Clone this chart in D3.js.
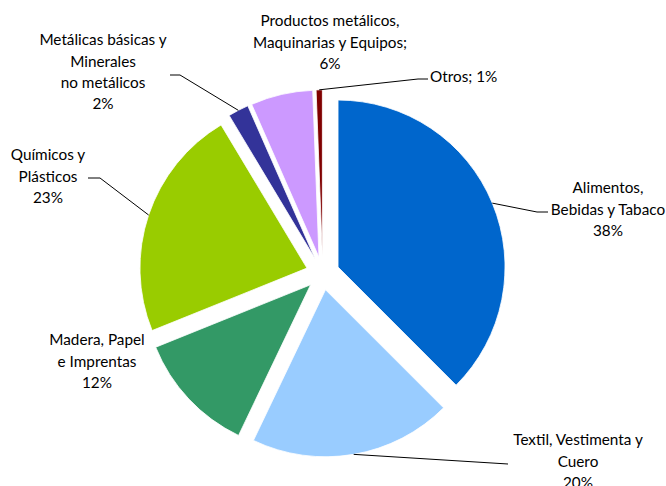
<!DOCTYPE html>
<html>
<head>
<meta charset="utf-8">
<script src="https://cdn.jsdelivr.net/npm/d3@7"></script>
<style>
  html, body { margin: 0; padding: 0; background: #fff; }
  svg { display: block; }
  text { font-family: Lato, "Open Sans", sans-serif; font-size: 15.3px; fill: #000; }
</style>
</head>
<body>
<svg id="chart" width="666" height="486"></svg>
<script>
// Industrial sectors and their share (%)
const categories = [
  "Alimentos, Bebidas y Tabaco",
  "Textil, Vestimenta y Cuero",
  "Madera, Papel e Imprentas",
  "Químicos y Plásticos",
  "Metálicas básicas y Minerales no metálicos",
  "Productos metálicos, Maquinarias y Equipos",
  "Otros"
];
const shares = [37.5, 19.6, 11.8, 22.5, 2.0, 6.0, 0.6];

// How each category name is broken into label lines
const nameLines = [
  ["Alimentos,", "Bebidas y Tabaco"],
  ["Textil, Vestimenta y", "Cuero"],
  ["Madera, Papel", "e Imprentas"],
  ["Químicos y", "Plásticos"],
  ["Metálicas básicas y", "Minerales", "no metálicos"],
  ["Productos metálicos,", "Maquinarias y Equipos;"],
  ["Otros;"]
];
// Whether the percentage sits on the last name line
const pctInline = [false, false, false, false, false, false, true];

const colors = ["#0066CC", "#99CCFF", "#339966", "#99CC00", "#333399", "#CC99FF", "#800000"];

// Label placement: anchor point, text anchor, and optional leader line knee/end
const labelLayout = [
  { x: 608, y: 188, anchor: "middle", knee: [537, 212], end: [548, 212] },
  { x: 578, y: 440, anchor: "middle", knee: [508, 464], end: null },
  { x: 97,  y: 340, anchor: "middle", knee: null, end: null },
  { x: 48,  y: 155, anchor: "middle", knee: [100, 178], end: [88, 178] },
  { x: 103, y: 40,  anchor: "middle", knee: [180, 75], end: [170, 75] },
  { x: 330, y: 21,  anchor: "middle", knee: null, end: null },
  { x: 430, y: 77,  anchor: "start", knee: [418, 79], end: [428, 79] }
];

const width = 666, height = 486;
const cx = 322.7, cy = 273.4;
const radius = 167;
const explode = 16.6;
const lineHeight = 21.3;

const svg = d3.select("#chart");

const pie = d3.pie().sort(null).value(d => d).startAngle(0).endAngle(2 * Math.PI);
const arcs = pie(shares);
const arc = d3.arc().innerRadius(0).outerRadius(radius);

function offsetOf(a) {
  const mid = (a.startAngle + a.endAngle) / 2;
  return [explode * Math.sin(mid), -explode * Math.cos(mid)];
}

const g = svg.append("g").attr("transform", `translate(${cx},${cy})`);

g.selectAll("path.slice")
  .data(arcs)
  .join("path")
  .attr("class", "slice")
  .attr("d", arc)
  .attr("fill", (d, i) => colors[i])
  .attr("stroke", "#fff")
  .attr("stroke-width", 0.8)
  .attr("transform", d => {
    const [dx, dy] = offsetOf(d);
    return `translate(${dx},${dy})`;
  });

// Leader lines from the outer edge of each slice to its label
arcs.forEach((a, i) => {
  const L = labelLayout[i];
  if (!L.knee) return;
  const mid = (a.startAngle + a.endAngle) / 2;
  const [dx, dy] = offsetOf(a);
  const px = cx + dx + radius * Math.sin(mid);
  const py = cy + dy - radius * Math.cos(mid);
  const pts = [[px, py], L.knee];
  if (L.end) pts.push(L.end);
  svg.append("path")
    .attr("d", d3.line()(pts))
    .attr("fill", "none")
    .attr("stroke", "#000")
    .attr("stroke-width", 1);
});

// Data labels: category name plus rounded percentage
arcs.forEach((a, i) => {
  const L = labelLayout[i];
  const pct = Math.round(a.data) + "%";
  let lines = nameLines[i].slice();
  if (pctInline[i]) lines[lines.length - 1] = lines[lines.length - 1] + " " + pct;
  else lines.push(pct);
  const t = svg.append("text")
    .attr("text-anchor", L.anchor)
    .attr("x", L.x)
    .attr("y", L.y);
  lines.forEach((ln, k) => {
    t.append("tspan")
      .attr("x", L.x)
      .attr("y", L.y + k * lineHeight)
      .attr("dy", "0.35em")
      .text(ln);
  });
});
</script>
</body>
</html>
